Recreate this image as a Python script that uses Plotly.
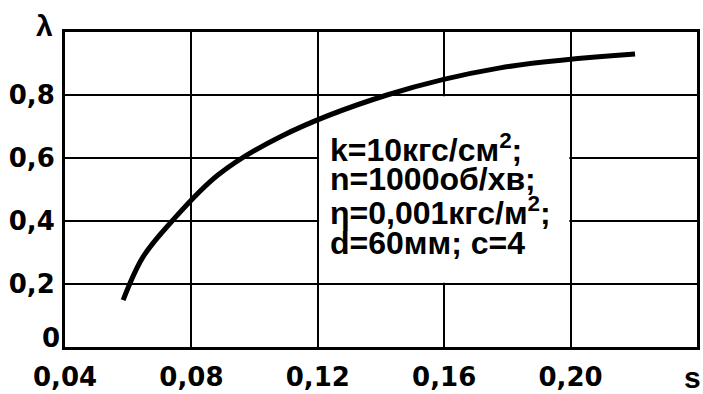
import plotly.graph_objects as go

# Curve data
s_values = [0.0584, 0.0647, 0.0739, 0.0884, 0.1080, 0.1419, 0.1777, 0.2204]
lambda_values = [0.149, 0.286, 0.400, 0.546, 0.667, 0.800, 0.886, 0.930]

x_tick_vals = [0.04, 0.08, 0.12, 0.16, 0.20]
x_tick_text = ["0,04", "0,08", "0,12", "0,16", "0,20"]
y_tick_vals = [0.2, 0.4, 0.6, 0.8]
y_tick_text = ["0,2", "0,4", "0,6", "0,8"]
x_title = "s"
y_title = "λ"

note_lines = [
    "k=10кгс/см<sup>2</sup>;",
    "n=1000об/хв;",
    "η=0,001кгс/м<sup>2</sup>;",
    "d=60мм; с=4",
]
note_y = [0.632, 0.532, 0.431, 0.330]

TICK_FONT = dict(family="DejaVu Sans", size=26, color="black", weight="bold")
NOTE_FONT = dict(family="Liberation Sans", size=32, color="black", weight="bold")

fig = go.Figure()
fig.add_trace(go.Scatter(
    x=s_values, y=lambda_values, mode="lines",
    line=dict(color="black", width=5, shape="spline", smoothing=1.0),
    hoverinfo="skip", showlegend=False,
))

# white area behind the note (gridlines hidden inside)
fig.add_shape(type="rect", xref="x", yref="y", x0=0.1204, x1=0.1996, y0=0.204, y1=0.796,
              fillcolor="white", line=dict(width=0), layer="between")

for txt, yy in zip(note_lines, note_y):
    fig.add_annotation(x=0.1232, y=yy, xref="x", yref="y", text=txt, showarrow=False,
                       xanchor="left", yanchor="middle", font=NOTE_FONT)

fig.add_annotation(x=0, y=0, xref="paper", yref="y", text="0", showarrow=False,
                   xanchor="right", yanchor="middle", xshift=-3, yshift=9, font=TICK_FONT)
fig.add_annotation(x=0, y=1.0, xref="paper", yref="y", text=y_title, showarrow=False,
                   xanchor="right", yanchor="middle", xshift=-10, yshift=7,
                   font=dict(family="Liberation Sans", size=30, color="black", weight="bold"))
fig.add_annotation(x=1, y=0, xref="paper", yref="y", text=x_title, showarrow=False,
                   xanchor="right", yanchor="middle", xshift=6, yshift=-30,
                   font=dict(family="Liberation Sans", size=30, color="black", weight="bold"))

fig.update_xaxes(range=[0.04, 0.24], tickvals=x_tick_vals, ticktext=x_tick_text,
                 showgrid=True, gridcolor="black", gridwidth=2,
                 showline=True, linecolor="black", linewidth=3, mirror=True,
                 ticks="", tickfont=TICK_FONT, zeroline=False, ticklabelstandoff=5,
                 automargin=False)
fig.update_yaxes(range=[0, 1.0], tickvals=y_tick_vals, ticktext=y_tick_text,
                 showgrid=True, gridcolor="black", gridwidth=2,
                 showline=True, linecolor="black", linewidth=3, mirror=True,
                 ticks="", tickfont=TICK_FONT, zeroline=False, ticklabelstandoff=2,
                 automargin=False)

fig.update_layout(
    width=703, height=394,
    margin=dict(l=65, r=6, t=32, b=47),
    plot_bgcolor="white", paper_bgcolor="white",
    showlegend=False,
)

fig.write_html("out.html", config={"displayModeBar": False},
               post_script="document.body.style.margin='0';")
